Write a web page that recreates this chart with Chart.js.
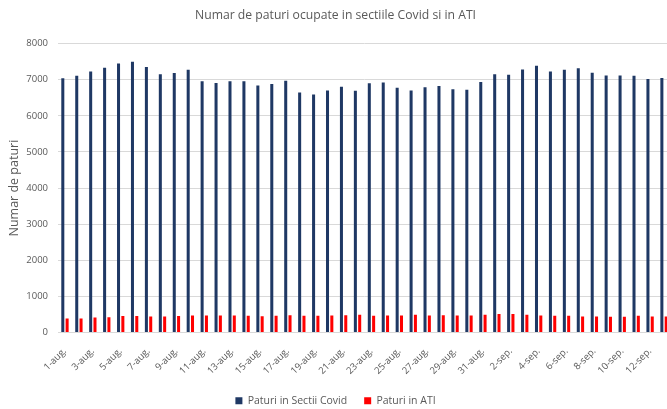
<!DOCTYPE html>
<html>
<head>
<meta charset="utf-8">
<script src="https://cdn.jsdelivr.net/npm/chart.js@4.4.1/dist/chart.umd.min.js"></script>
<style>
  html, body { margin: 0; padding: 0; overflow: hidden; background: #fff; }
  #wrap { width: 677px; height: 409px; position: relative; }
</style>
</head>
<body>
<div id="wrap"><canvas id="paturiChart"></canvas></div>
<script>
// zilele (1 aug - 13 sep)
var zile = [
  "1-aug.", "2-aug.", "3-aug.", "4-aug.", "5-aug.", "6-aug.", "7-aug.", "8-aug.", "9-aug.", "10-aug.",
  "11-aug.", "12-aug.", "13-aug.", "14-aug.", "15-aug.", "16-aug.", "17-aug.", "18-aug.", "19-aug.", "20-aug.",
  "21-aug.", "22-aug.", "23-aug.", "24-aug.", "25-aug.", "26-aug.", "27-aug.", "28-aug.", "29-aug.", "30-aug.",
  "31-aug.", "1-sep.", "2-sep.", "3-sep.", "4-sep.", "5-sep.", "6-sep.", "7-sep.", "8-sep.", "9-sep.",
  "10-sep.", "11-sep.", "12-sep.", "13-sep."
];

// paturi ocupate in sectii Covid
var sectiiCovid = [
  7040, 7110, 7230, 7330, 7450, 7500, 7350, 7150, 7185, 7280,
  6955, 6910, 6960, 6960, 6840, 6880, 6970, 6650, 6590, 6700,
  6805, 6695, 6900, 6925, 6780, 6705, 6795, 6825, 6740, 6720,
  6935, 7155, 7140, 7285, 7390, 7230, 7280, 7315, 7195, 7120,
  7120, 7110, 7020, 7045
];

// paturi ocupate in ATI
var paturiATI = [
  390, 390, 415, 425, 455, 455, 445, 445, 455, 470,
  470, 470, 470, 465, 450, 465, 480, 465, 465, 470,
  480, 490, 465, 470, 470, 490, 470, 480, 470, 470,
  490, 510, 510, 490, 470, 465, 465, 445, 445, 435,
  435, 465, 445, 445
];

var yTicks = [0, 1000, 2000, 3000, 4000, 5000, 6000, 7000, 8000];

var textColor = "#595959";
var gridColor = "#d9d9d9";

var ctx = document.getElementById("paturiChart").getContext("2d");
var paturiChart = new Chart(ctx, {
  type: "bar",
  data: {
    labels: zile,
    datasets: [
      {
        label: "Paturi in Sectii Covid",
        data: sectiiCovid,
        backgroundColor: "#1f3864",
        borderWidth: 0,
        barPercentage: 0.7,
        categoryPercentage: 0.62,
      },
      {
        label: "Paturi in ATI",
        data: paturiATI,
        backgroundColor: "#ff0000",
        borderWidth: 0,
        barPercentage: 0.7,
        categoryPercentage: 0.62,
      },
    ],
  },
  options: {
    responsive: true,
    maintainAspectRatio: false,
    animation: false,
    layout: {
      padding: { left: 0, right: 6, top: 0, bottom: -7 },
    },
    plugins: {
      title: {
        display: true,
        text: "Numar de paturi ocupate in sectiile Covid si in ATI",
        color: textColor,
        font: { family: "Open Sans", size: 12.2, weight: "normal" },
        padding: { top: 8, bottom: 21 },
      },
      legend: {
        position: "bottom",
        labels: {
          color: textColor,
          font: { family: "Open Sans", size: 10.5 },
          boxWidth: 7,
          boxHeight: 7,
          padding: 17,
        },
      },
      tooltip: { enabled: false },
    },
    scales: {
      x: {
        grid: { display: false, drawTicks: false },
        border: { display: true, color: gridColor },
        ticks: {
          color: textColor,
          font: { family: "Open Sans", size: 9.5 },
          autoSkip: false,
          maxRotation: 45,
          minRotation: 45,
          padding: 13,
          callback: function (val, i) {
            return i % 2 === 0 ? zile[i] : "";
          },
        },
        afterFit: function (scale) {
          scale.height = 46;
          scale.paddingLeft = 0;
          scale.paddingRight = 0;
        },
      },
      y: {
        min: 0,
        max: 8000,
        afterBuildTicks: function (scale) {
          scale.ticks = yTicks.map(function (v) { return { value: v }; });
        },
        grid: { color: gridColor, drawTicks: false },
        border: { display: false },
        ticks: {
          color: textColor,
          font: { family: "Open Sans", size: 9.5 },
          padding: 10,
          callback: function (v) { return String(v); },
        },
        title: {
          display: true,
          text: "Numar de paturi",
          color: textColor,
          font: { family: "Open Sans", size: 12.5 },
          padding: { top: 7, bottom: 0 },
        },
        afterFit: function (scale) {
          scale.width = 58;
        },
      },
    },
  },
});
</script>
</body>
</html>
